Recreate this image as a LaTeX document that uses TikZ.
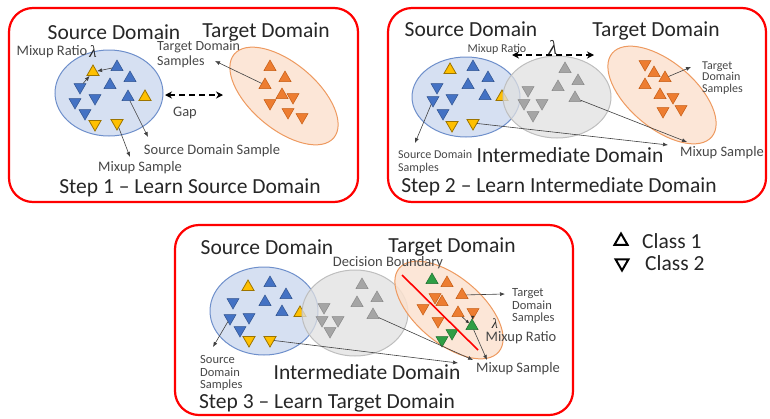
\documentclass[tikz,border=0pt]{standalone}
\usepackage{fontspec}
\setmainfont{Carlito}
\newfontfamily\lamfont{Liberation Serif}
\usetikzlibrary{shapes.geometric,arrows.meta}
\definecolor{tblue}{HTML}{4472C4}
\definecolor{tblueD}{HTML}{2F528F}
\definecolor{tyellow}{HTML}{FFC000}
\definecolor{tyellowD}{HTML}{9C7400}
\definecolor{torange}{HTML}{ED7D31}
\definecolor{torangeD}{HTML}{C55A11}
\definecolor{tgray}{HTML}{A5A5A5}
\definecolor{tgrayD}{HTML}{8A8A8A}
\definecolor{tgreen}{HTML}{2E9E44}
\definecolor{tgreenD}{HTML}{1E6E2E}
\definecolor{eblue}{HTML}{D6E0F2}
\definecolor{eblueD}{HTML}{6E8FCB}
\definecolor{egray}{HTML}{E0E0E0}
\definecolor{egrayD}{HTML}{BEBEBE}
\definecolor{eorange}{HTML}{FBE2D0}
\definecolor{eorangeD}{HTML}{EE9A60}
\definecolor{txt}{HTML}{262626}
\begin{document}
\begin{tikzpicture}[x=1pt,y=-1pt,
  tri/.style={regular polygon, regular polygon sides=3, minimum size=14pt, inner sep=0pt, line width=0.5pt},
  tu/.style={tri},
  td/.style={tri, shape border rotate=180},
  cb/.style={fill=tblue, draw=tblueD},
  cy/.style={fill=tyellow, draw=tyellowD, line width=0.8pt},
  co/.style={fill=torange, draw=torangeD},
  cg/.style={fill=tgray, draw=tgrayD},
  cn/.style={fill=tgreen, draw=tgreenD},
  ell/.style={ellipse, inner sep=0pt, line width=1pt},
  blueell/.style={ell, fill=eblue, draw=eblueD},
  grayell/.style={ell, fill=egray, fill opacity=0.75, draw=egrayD},
  orangeell/.style={ell, fill=eorange, fill opacity=0.85, draw=eorangeD},
  big/.style={font=\fontsize{21.5}{24}\selectfont, text=txt, inner sep=0pt},
  mid/.style={font=\fontsize{14.5}{15}\selectfont, text=txt!85, inner sep=0pt},
  sm/.style={font=\fontsize{12}{12.5}\selectfont, text=txt!85, inner sep=0pt, align=left},
  lam/.style={inner sep=0pt, text=txt},
  arr/.style={draw=black!75, line width=0.6pt, -{Latex[length=5pt,width=4pt]}},
  sarr/.style={draw=black!80, line width=0.6pt, -{Latex[length=3.5pt,width=3.5pt]}},
  dasharr/.style={draw=black, line width=1.5pt, dash pattern=on 6pt off 4pt, {Stealth[length=7pt,width=7pt]}-{Stealth[length=7pt,width=7pt]}},
  frame/.style={draw=red, line width=2.2pt, rounded corners=24pt},
  legtri/.style={tri, minimum size=15pt, draw=black, fill=white, line width=2pt}
]
\useasboundingbox (0,0) rectangle (770,418);

% ---------------- frames
\draw[frame] (9,8) rectangle (358,202);
\draw[frame] (388,8) rectangle (766,202);
\draw[frame] (175,225) rectangle (573,415);

% ================= Panel 1
\node[blueell, minimum width=108pt, minimum height=86pt] (e1b) at (109,93) {};
\node[orangeell, minimum width=130pt, minimum height=66pt, rotate=-40] (e1o) at (284,96) {};
\foreach \x/\y [count=\i] in {117/67,110/85,130/78,128/97} \node[tu,cb] (a1bu\i) at (\x,\y) {};
\foreach \x/\y [count=\i] in {80/87,75/102,95/98,85/113} \node[td,cb] (a1bd\i) at (\x,\y) {};
\foreach \x/\y [count=\i] in {93/72,145/97} \node[tu,cy] (a1yu\i) at (\x,\y) {};
\foreach \x/\y [count=\i] in {95/124,117/123} \node[td,cy] (a1yd\i) at (\x,\y) {};
\foreach \x/\y [count=\i] in {270/67,285/78,265/85,282/95} \node[tu,co] (a1ou\i) at (\x,\y) {};
\foreach \x/\y [count=\i] in {270/103,293/97,288/112,302/117} \node[td,co] (a1od\i) at (\x,\y) {};

\node[big] (t1s) at (114,32) {Source Domain};
\node[big] (t1t) at (266,32) {Target Domain};
\node[mid] (t1mr) at (52,52) {Mixup Ratio};
\node[lam, font=\fontsize{17}{17}\selectfont\lamfont\itshape] (t1l) at (93,52) {λ};
\node[mid, anchor=west, align=left, font=\fontsize{14}{15}\selectfont] (t1tds) at (157,54.5) {Target Domain\\Samples};
\node[mid] (t1gap) at (185,113) {Gap};
\node[mid] (t1sds) at (212,151) {Source Domain Sample};
\node[mid] (t1ms) at (140,168) {Mixup Sample};
\node[big] (t1step) at (190,188) {Step 1 – Learn Source Domain};

\coordinate (c1sds) at (148,137);
\coordinate (c1ms) at (130,157);
\coordinate (c1tds) at (215,61);
\coordinate (c1gap) at (223,95);
\coordinate (c1gaps) at (165,95);
\draw[arr] (a1bu1) -- (a1yu1);
\draw[arr] (a1bd1) -- (a1yu1);
\draw[arr] (a1bu4) -- (c1sds);
\draw[arr] (a1yd2) -- (c1ms);
\draw[arr] (a1ou3) -- (c1tds);
\draw[dasharr] (c1gaps) -- (c1gap);

% ================= Panel 2
\node[blueell, minimum width=108pt, minimum height=80pt] (e2b) at (466,97) {};
\foreach \x/\y [count=\i] in {473/67,488/78,468/85,485/96} \node[tu,cb] (a2bu\i) at (\x,\y) {};
\foreach \x/\y [count=\i] in {437/87,433/100,452/98,443/113} \node[td,cb] (a2bd\i) at (\x,\y) {};
\foreach \x/\y [count=\i] in {450/70,502/97} \node[tu,cy] (a2yu\i) at (\x,\y) {};
\foreach \x/\y [count=\i] in {452/125,473/123} \node[td,cy] (a2yd\i) at (\x,\y) {};
\node[grayell, minimum width=108pt, minimum height=82pt] (e2g) at (557,97) {};
\foreach \x/\y [count=\i] in {565/69,578/81,558/87,575/98} \node[tu,cg] (a2gu\i) at (\x,\y) {};
\foreach \x/\y [count=\i] in {528/90,524/103,542/103,533/115} \node[td,cg] (a2gd\i) at (\x,\y) {};
\node[orangeell, minimum width=130pt, minimum height=66pt, rotate=-40] (e2o) at (662,95) {};
\foreach \x/\y [count=\i] in {654/73,665/78,645/85,660/95} \node[tu,co] (a2ou\i) at (\x,\y) {};
\foreach \x/\y [count=\i] in {645/64,673/97,663/111,681/109} \node[td,co] (a2od\i) at (\x,\y) {};

\node[big] (t2s) at (471,29) {Source Domain};
\node[big] (t2t) at (656,31) {Target Domain};
\node[mid, font=\fontsize{12}{12}\selectfont] (t2mr) at (497,49.5) {Mixup Ratio};
\node[lam, font=\fontsize{20}{20}\selectfont\lamfont\itshape] (t2l) at (553,47) {λ};
\node[sm, anchor=west, font=\fontsize{12}{11.5}\selectfont] (t2tds) at (702,78) {Target\\Domain\\Samples};
\node[mid] (t2ms) at (722,153) {Mixup Sample};
\node[sm, anchor=west, font=\fontsize{12}{13}\selectfont] (t2sds) at (398,161.5) {Source Domain\\Samples};
\node[big] (t2id) at (570,155) {Intermediate Domain};
\node[big] (t2step) at (559,187) {Step 2 – Learn Intermediate Domain};

\coordinate (c2a) at (512,55);
\coordinate (c2b) at (594,55);
\coordinate (c2sds) at (415,143);
\coordinate (c2ms1) at (668,145);
\coordinate (c2ms2) at (687,142);
\coordinate (c2tds) at (691,67);
\draw[dasharr] (c2a) -- (c2b);
\draw[arr] (a2bd2) -- (c2sds);
\draw[arr] (a2yd2) -- (c2ms1);
\draw[arr] (a2gu4) -- (c2ms2);
\draw[arr] (a2ou2) -- (c2tds);

% ================= Panel 3
\node[blueell, minimum width=108pt, minimum height=88pt] (e3b) at (264,311) {};
\foreach \x/\y [count=\i] in {270/283,286/295,265/302,282/312} \node[tu,cb] (a3bu\i) at (\x,\y) {};
\foreach \x/\y [count=\i] in {233/302,230/318,249/317,240/330} \node[td,cb] (a3bd\i) at (\x,\y) {};
\foreach \x/\y [count=\i] in {248/287,300/313} \node[tu,cy] (a3yu\i) at (\x,\y) {};
\foreach \x/\y [count=\i] in {249/340,270/340} \node[td,cy] (a3yd\i) at (\x,\y) {};
\node[grayell, minimum width=106pt, minimum height=86pt] (e3g) at (355,313) {};
\foreach \x/\y [count=\i] in {362/285,377/298,357/303,373/315} \node[tu,cg] (a3gu\i) at (\x,\y) {};
\foreach \x/\y [count=\i] in {324/307,322/320,338/320,330/331} \node[td,cg] (a3gd\i) at (\x,\y) {};
\node[orangeell, minimum width=130pt, minimum height=66pt, rotate=-40] (e3o) at (449,310) {};
\foreach \x/\y [count=\i] in {447/283,462/295,442/302,458/313} \node[tu,co] (a3ou\i) at (\x,\y) {};
\foreach \x/\y [count=\i] in {435/297,423/308,438/321,473/312} \node[td,co] (a3od\i) at (\x,\y) {};
\foreach \x/\y [count=\i] in {432/280,472/326} \node[tu,cn] (a3nu\i) at (\x,\y) {};
\foreach \x/\y [count=\i] in {442/340,452/333} \node[td,cn] (a3nd\i) at (\x,\y) {};
\coordinate (c3r1) at (402,275);
\coordinate (c3r2) at (478,350);
\draw[red, line width=1.6pt] (c3r1) -- (c3r2);

\node[big] (t3s) at (267,247) {Source Domain};
\node[big] (t3t) at (452,247) {Target Domain};
\node[mid] (t3db) at (388,263) {Decision Boundary};
\node[sm, anchor=west, font=\fontsize{12.5}{12.5}\selectfont] (t3tds) at (512,306) {Target\\Domain\\Samples};
\node[lam, font=\fontsize{14}{14}\selectfont\lamfont\itshape] (t3l) at (495,324) {λ};
\node[mid] (t3mr) at (521,338) {Mixup Ratio};
\node[mid] (t3ms) at (518,369) {Mixup Sample};
\node[big] (t3id) at (367,372) {Intermediate Domain};
\node[sm, anchor=west, font=\fontsize{12.5}{12.5}\selectfont] (t3sds) at (200,373) {Source\\Domain\\Samples};
\node[big] (t3step) at (327,403) {Step 3 – Learn Target Domain};

\coordinate (c3sds) at (213,347);
\coordinate (c3ms1) at (458,363);
\coordinate (c3ms2) at (473,360);
\coordinate (c3ms3) at (487,360);
\coordinate (c3tds) at (505,294);
\draw[arr] (a3bd2) -- (c3sds);
\draw[arr] (a3yd2) -- (c3ms1);
\draw[arr] (a3gu4) -- (c3ms2);
\draw[arr] (a3nu2) -- (c3ms3);
\draw[arr] (a3ou2) -- (c3tds);
\draw[sarr] (a3ou4) -- (a3nu2);
\draw[sarr] (a3od4) -- (a3nu2);

% ================= Legend
\node[legtri] (lg1) at (621,241) {};
\node[big, anchor=west] (lg1t) at (642,241) {Class 1};
\node[legtri, shape border rotate=180] (lg2) at (622,263) {};
\node[big, anchor=west] (lg2t) at (645,263) {Class 2};
\end{tikzpicture}
\end{document}
